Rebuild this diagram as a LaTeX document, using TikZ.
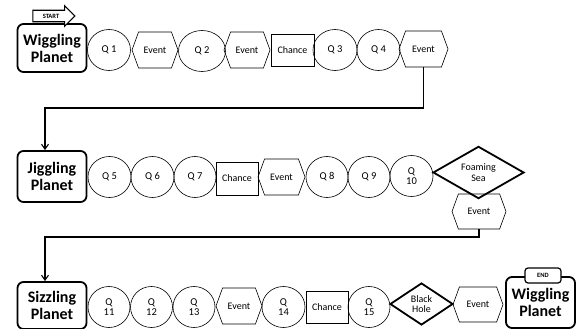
\documentclass[tikz,border=0pt]{standalone}
\usepackage{fontspec}
\setmainfont{Carlito}
\usetikzlibrary{arrows.meta, shapes.geometric, shapes.symbols, shapes.arrows}

\begin{document}
\begin{tikzpicture}[x=1pt, y=-1pt,
    qcirc/.style={ellipse, draw, line width=0.6pt, minimum width=43pt, minimum height=41pt, inner sep=0pt, align=center, font=\fontsize{10.5}{10.5}\selectfont},
    evhex/.style={signal, signal to=east and west, signal pointer angle=140, draw, line width=0.6pt, minimum width=47pt, minimum height=36pt, inner sep=0pt, font=\fontsize{10}{10}\selectfont},
    chbox/.style={rectangle, draw, line width=0.8pt, minimum width=42pt, minimum height=32pt, inner sep=0pt, font=\fontsize{10}{10}\selectfont},
    planet/.style={rectangle, rounded corners=6pt, draw, line width=1.8pt, minimum width=69pt, inner sep=0pt, align=center, font=\bfseries\fontsize{16}{17}\selectfont},
    hazard/.style={diamond, draw, line width=1.8pt, inner sep=0pt, align=center, font=\fontsize{10}{10.5}\selectfont},
    tag/.style={draw, fill=white, line width=1.2pt, inner sep=0pt, font=\bfseries\fontsize{6.5}{6.5}\selectfont},
    route/.style={draw, line width=1.1pt, -{Straight Barb[length=5pt, width=7pt]}}
  ]
  \useasboundingbox (0,0) rectangle (579,329);

  % first row
  \node[planet, minimum height=48pt] (wig) at (52,48) {Wiggling\\Planet};
  \node[tag, single arrow, single arrow head extend=4.5pt, single arrow head indent=0pt, minimum height=42pt, inner xsep=2pt, inner ysep=3pt] (start) at (51,16) {START};
  \node[qcirc] (q1) at (109,50) {Q 1};
  \node[evhex, minimum width=46pt] (ev1) at (155,50) {Event};
  \node[qcirc, minimum width=47pt] (q2) at (202,51) {Q 2};
  \node[evhex, minimum width=46pt] (ev2) at (247,50) {Event};
  \node[chbox, minimum width=43pt] (ch1) at (292.5,50) {Chance};
  \node[qcirc, minimum width=44pt] (q3) at (335,50) {Q 3};
  \node[qcirc] (q4) at (378.5,50) {Q 4};
  \node[evhex, minimum width=49pt] (ev3) at (423.5,49) {Event};

  % second row
  \node[planet, minimum height=51pt] (jig) at (52,176.5) {Jiggling\\Planet};
  \node[qcirc] (q5) at (109.5,177) {Q 5};
  \node[qcirc] (q6) at (152.5,177) {Q 6};
  \node[qcirc, minimum width=42pt] (q7) at (195,177) {Q 7};
  \node[chbox, minimum height=33pt] (ch2) at (237,178.5) {Chance};
  \node[evhex] (ev4) at (281.5,177) {Event};
  \node[qcirc, minimum width=42pt] (q8) at (327,177) {Q 8};
  \node[qcirc, minimum width=42pt] (q9) at (369,177) {Q 9};
  \node[qcirc] (q10) at (411.5,176) {Q\\10};
  \node[hazard, minimum width=91pt, minimum height=43pt] (foam) at (478.5,172.5) {Foaming\\Sea};
  \node[evhex, minimum width=54pt, minimum height=35pt] (ev5) at (479,211.5) {Event};

  % third row
  \node[planet, minimum height=47pt] (siz) at (52,305.5) {Sizzling\\Planet};
  \node[qcirc, minimum width=42pt] (q11) at (109,307) {Q\\11};
  \node[qcirc, minimum width=42pt] (q12) at (151.5,307) {Q\\12};
  \node[qcirc, minimum width=42pt] (q13) at (194,307) {Q\\13};
  \node[evhex, minimum width=46pt] (ev6) at (239,306) {Event};
  \node[qcirc] (q14) at (283.5,307) {Q\\14};
  \node[chbox] (ch3) at (327,307) {Chance};
  \node[qcirc, minimum width=42pt] (q15) at (369,307) {Q\\15};
  \node[hazard, minimum width=63pt, minimum height=42pt] (hole) at (421.5,304) {Black\\Hole};
  \node[evhex, minimum width=50pt, minimum height=35pt] (ev7) at (478,304.5) {Event};
  \node[planet, minimum height=51pt] (endp) at (540.5,302.5) {Wiggling\\Planet};
  \node[tag, rounded corners=3pt, minimum width=36pt, minimum height=15pt] (finish) at (543,275.5) {END};

  \draw[route] (ev3.south) -- (ev3.south |- 0,108) -| ([xshift=-7pt]jig.north);
  \draw[route] (ev5.south) -- (ev5.south |- 0,237) -| ([xshift=-7pt]siz.north);
\end{tikzpicture}
\end{document}
